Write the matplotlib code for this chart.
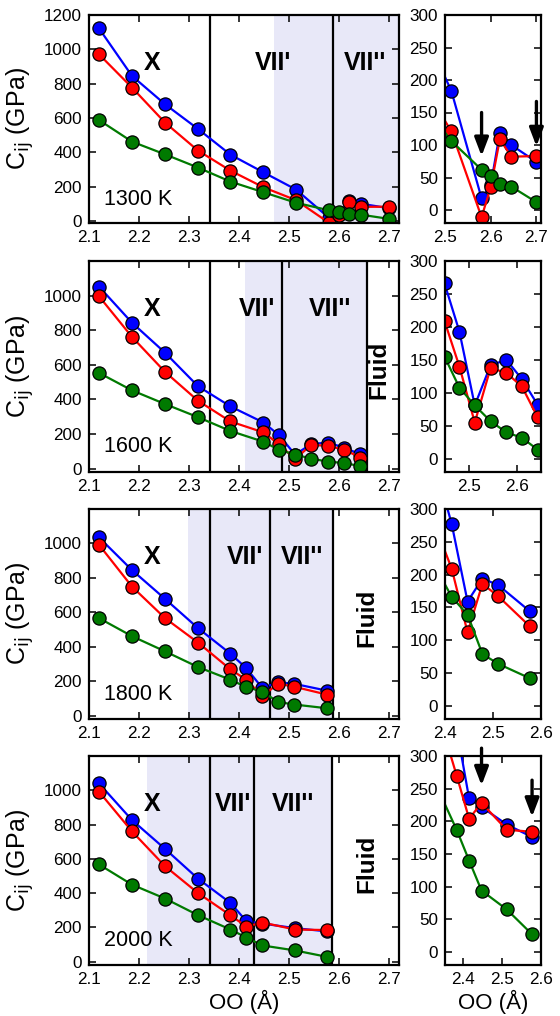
# Elastic constants vs O-O distance at four temperatures (full range + zoom panels).
import matplotlib
matplotlib.use("Agg")
import matplotlib.pyplot as plt

plt.rcParams["font.family"] = ["Liberation Sans", "DejaVu Sans"]

# ---- data ----
temps = ["1300 K", "1600 K", "1800 K", "2000 K"]

x_1300 = [2.12, 2.186, 2.252, 2.318, 2.383, 2.449, 2.514, 2.58, 2.60, 2.62, 2.645, 2.70]
blue_1300 = [1122, 845, 680, 536, 386, 283, 183, 18, 38, 119, 100, 74]
red_1300 = [971, 777, 573, 410, 293, 196, 121, -11, 35, 109, 82, 83]
green_1300 = [588, 462, 388, 311, 229, 167, 106, 62, 53, 40, 36, 12]

x_1600 = [2.12, 2.186, 2.252, 2.318, 2.383, 2.449, 2.48, 2.512, 2.545, 2.578, 2.61, 2.643]
blue_1600 = [1052, 843, 670, 476, 359, 266, 193, 81, 142, 150, 121, 82]
red_1600 = [996, 761, 559, 392, 272, 209, 140, 55, 138, 130, 110, 63]
green_1600 = [553, 452, 373, 297, 217, 155, 108, 81, 57, 40, 32, 14]

x_1800 = [2.12, 2.186, 2.252, 2.318, 2.383, 2.414, 2.447, 2.478, 2.511, 2.577]
blue_1800 = [1035, 845, 678, 508, 359, 277, 159, 194, 184, 144]
red_1800 = [992, 749, 566, 424, 268, 209, 112, 186, 167, 121]
green_1800 = [566, 461, 373, 282, 208, 166, 139, 79, 64, 42]

x_2000 = [2.12, 2.186, 2.252, 2.318, 2.383, 2.415, 2.447, 2.512, 2.577]
blue_2000 = [1040, 826, 658, 484, 342, 235, 222, 195, 176]
red_2000 = [992, 760, 557, 400, 270, 204, 228, 187, 184]
green_2000 = [567, 449, 368, 271, 187, 140, 94, 65, 27]

# phase boundaries (vertical lines) and shaded range per temperature
boundaries = [[2.342, 2.588], [2.342, 2.486, 2.656], [2.342, 2.462, 2.588], [2.342, 2.43, 2.586]]
shades = [(2.47, 2.75), (2.412, 2.656), (2.298, 2.588), (2.216, 2.586)]
phase_labels = [
    [("X", 2.227), ("VII'", 2.468), ("VII''", 2.652)],
    [("X", 2.227), ("VII'", 2.436), ("VII''", 2.582)],
    [("X", 2.227), ("VII'", 2.412), ("VII''", 2.526)],
    [("X", 2.227), ("VII'", 2.388), ("VII''", 2.508)],
]
fluid_x = [None, 2.679, 2.655, 2.655]

# zoom panel ranges and arrows (x, y_start, y_end)
zoom_xlim = [(2.5, 2.71), (2.45, 2.65), (2.4, 2.6), (2.353, 2.6)]
zoom_xticks = [[2.5, 2.6, 2.7], [2.5, 2.6], [2.4, 2.5, 2.6], [2.4, 2.5, 2.6]]
arrows = [[(2.58, 150, 83), (2.70, 167, 98)], [], [], [(2.447, 312, 255), (2.577, 263, 207)]]

rows = [
    (x_1300, blue_1300, red_1300, green_1300),
    (x_1600, blue_1600, red_1600, green_1600),
    (x_1800, blue_1800, red_1800, green_1800),
    (x_2000, blue_2000, red_2000, green_2000),
]
colors = ["#0000ff", "#ff0000", "#007a00"]

W, H = 560, 1016
row_px = [(15, 223), (261, 472), (509, 719), (756, 965)]


def style_axes(ax):
    for s in ax.spines.values():
        s.set_linewidth(1.6)
    ax.tick_params(direction="in", top=True, right=True, length=5, width=1.1,
                   labelsize=12.3, pad=5)


def plot_series(ax, x, ys):
    for y, c in zip(ys, colors):
        ax.plot(x, y, "-o", color=c, lw=1.6, ms=9.5, mfc=c, mec="k", mew=0.9, clip_on=True)


fig = plt.figure(figsize=(W / 100, H / 100), dpi=100)

for i, (x, b, r, g) in enumerate(rows):
    top, bot = row_px[i]
    y0 = 1 - bot / H
    h = (bot - top) / H
    ax = fig.add_axes([89 / W, y0, 310 / W, h])
    axz = fig.add_axes([445 / W, y0, 96 / W, h])

    # left panel
    ax.axvspan(*shades[i], color="#e8e8f8", lw=0, zorder=0)
    for xb in boundaries[i]:
        ax.axvline(xb, color="k", lw=1.6, zorder=1)
    plot_series(ax, x, [b, r, g])
    ax.set_xlim(2.1, 2.72)
    ax.set_xticks([2.1, 2.2, 2.3, 2.4, 2.5, 2.6, 2.7])
    if i == 0:
        ax.set_ylim(-12, 1200)
        ax.set_yticks(range(0, 1201, 200))
    else:
        ax.set_ylim(-20, 1200)
        ax.set_yticks(range(0, 1001, 200))
    ax.set_ylabel("C$_{\\rm ij}$ (GPa)", fontsize=18, labelpad=6)
    style_axes(ax)
    for txt, xt in phase_labels[i]:
        ax.text(xt, 920, txt, ha="center", va="center", fontsize=18, fontweight="bold")
    ax.text(2.13, 125, temps[i], ha="left", va="center", fontsize=15.5)
    if fluid_x[i] is not None:
        ax.text(fluid_x[i], 570, "Fluid", rotation=90, ha="center", va="center",
                fontsize=17.5, fontweight="bold")

    # zoom panel
    plot_series(axz, x, [b, r, g])
    axz.set_xlim(*zoom_xlim[i])
    axz.set_xticks(zoom_xticks[i])
    axz.set_ylim(-20, 300)
    axz.set_yticks(range(0, 301, 50))
    style_axes(axz)
    for xa, ys, ye in arrows[i]:
        axz.annotate("", xy=(xa, ye), xytext=(xa, ys), annotation_clip=False,
                     arrowprops=dict(arrowstyle="-|>,head_length=1.1,head_width=0.42",
                                     color="k", lw=2.4, shrinkA=0, shrinkB=0))

    if i == 3:
        ax.set_xlabel("OO (Å)", fontsize=16, labelpad=2)
        axz.set_xlabel("OO (Å)", fontsize=16, labelpad=2)

fig.savefig("out.png", dpi=100)
